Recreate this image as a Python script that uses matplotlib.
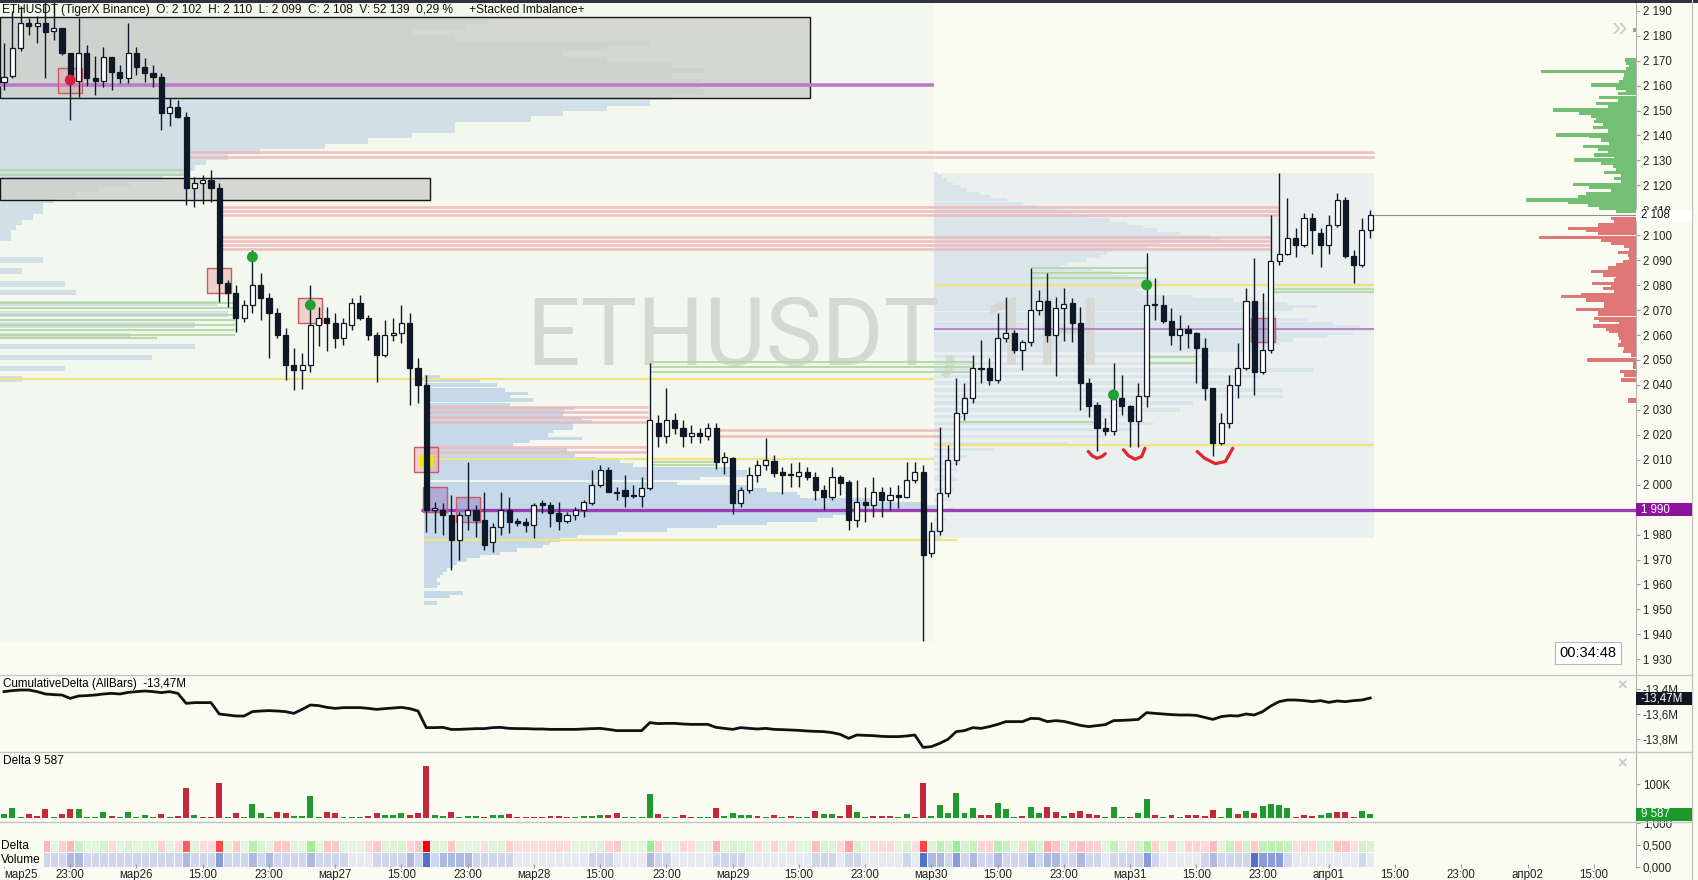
import numpy as np
import matplotlib.pyplot as plt
import matplotlib.transforms as mtrans
from matplotlib.patches import Rectangle
from matplotlib.lines import Line2D
from matplotlib.colors import to_rgb

# ---------------- data: ETHUSDT 1h candles ----------------
opens = [2161.6, 2163.8, 2174.9, 2184.9, 2183.9, 2184.9, 2181.9, 2182.9, 2172.9, 2161.8,
         2172.9, 2162.9, 2161.8, 2171.6, 2165.6, 2162.9, 2172.9, 2167.6, 2164.9, 2163.6,
         2148.9, 2151.5, 2147.5, 2118.8, 2120.8, 2122.1, 2118.8, 2080.7, 2076.7, 2066.7,
         2072.1, 2080.1, 2074.7, 2068.7, 2060.0, 2048.0, 2046.0, 2048.0, 2064.0, 2066.7,
         2064.7, 2058.7, 2064.0, 2072.7, 2066.7, 2060.0, 2052.0, 2060.0, 2060.7, 2064.7,
         2046.6, 2040.0, 1990.0, 1989.9, 1987.9, 1977.8, 1987.9, 1989.9, 1985.9, 1977.2,
         1983.2, 1989.9, 1985.2, 1985.2, 1983.8, 1992.5, 1991.9, 1988.8, 1985.6, 1987.9,
         1989.9, 1992.5, 1999.9, 2005.9, 1997.2, 1997.9, 1995.9, 1995.5, 1998.8, 2024.6,
         2019.5, 2025.9, 2022.6, 2019.5, 2020.6, 2019.5, 2022.6, 2009.2, 2010.6, 1992.8,
         1997.9, 2003.9, 2007.9, 2009.6, 2004.9, 2004.2, 2003.6, 2004.9, 2002.9, 1997.9,
         1995.2, 2003.2, 2001.2, 1985.8, 1992.9, 1991.9, 1996.9, 1993.9, 1995.9, 1995.2,
         2001.9, 2005.0, 1972.5, 1981.5, 1996.7, 2010.0, 2028.7, 2034.7, 2046.5, 2046.7,
         2042.0, 2058.7, 2061.0, 2054.0, 2057.0, 2070.1, 2073.8, 2060.0, 2070.7, 2072.7,
         2064.7, 2040.7, 2032.0, 2022.6, 2021.7, 2034.7, 2031.6, 2025.7, 2035.6, 2072.1,
         2072.1, 2065.8, 2060.0, 2062.5, 2061.0, 2054.7, 2038.7, 2016.6, 2024.6, 2040.0,
         2046.7, 2073.8, 2045.0, 2054.0, 2089.8, 2092.5, 2098.8, 2096.1, 2106.8, 2100.8,
         2096.1, 2104.1, 2114.2, 2091.7, 2088.1, 2102.0]
highs = [2176.9, 2190.0, 2192.0, 2187.0, 2188.0, 2194.5, 2194.5, 2182.9, 2173.0, 2187.0,
         2176.3, 2172.0, 2175.6, 2171.6, 2168.2, 2184.9, 2175.6, 2170.9, 2168.2, 2164.9,
         2154.9, 2154.2, 2149.5, 2123.5, 2124.2, 2126.2, 2120.8, 2082.1, 2080.1, 2074.1,
         2094.1, 2084.7, 2076.7, 2070.7, 2062.7, 2054.7, 2052.7, 2080.1, 2071.4, 2071.4,
         2068.7, 2066.7, 2074.7, 2076.1, 2068.0, 2061.4, 2066.0, 2066.7, 2072.1, 2068.7,
         2050.6, 2044.0, 1993.2, 1992.5, 1995.9, 1989.2, 2009.2, 1991.9, 1997.2, 1984.5,
         1997.2, 1995.2, 1986.5, 1986.5, 1992.5, 1993.9, 1993.2, 1993.2, 1989.2, 1991.2,
         1993.9, 2005.9, 2007.9, 2007.2, 1999.2, 2003.9, 1999.9, 2003.2, 2048.6, 2027.9,
         2038.6, 2028.6, 2025.9, 2023.9, 2022.6, 2024.9, 2024.6, 2013.2, 2011.2, 1999.2,
         2007.2, 2009.9, 2018.6, 2011.9, 2007.2, 2008.6, 2009.2, 2007.2, 2005.2, 1999.9,
         2007.2, 2003.9, 2001.9, 2001.9, 1999.2, 2003.2, 1999.2, 1999.2, 1999.9, 2009.2,
         2009.2, 2008.0, 1985.0, 2023.3, 2016.0, 2042.7, 2040.7, 2052.0, 2058.0, 2050.7,
         2068.7, 2075.4, 2062.0, 2058.0, 2086.8, 2078.1, 2084.8, 2075.4, 2078.8, 2074.7,
         2071.4, 2042.7, 2033.3, 2026.7, 2048.7, 2044.0, 2032.0, 2040.7, 2092.8, 2082.8,
         2076.1, 2070.7, 2068.1, 2064.1, 2061.4, 2058.7, 2038.7, 2028.7, 2044.0, 2056.7,
         2078.8, 2090.8, 2076.8, 2108.1, 2124.9, 2114.8, 2102.8, 2108.8, 2109.1, 2102.8,
         2108.1, 2116.8, 2115.5, 2094.1, 2106.8, 2110.0]
lows = [2158.2, 2163.0, 2174.0, 2180.3, 2177.2, 2162.9, 2178.3, 2172.3, 2146.2, 2155.6,
        2159.8, 2156.2, 2159.3, 2158.2, 2160.9, 2160.9, 2164.2, 2161.6, 2159.3, 2142.2,
        2143.8, 2146.9, 2112.1, 2111.2, 2112.5, 2113.5, 2073.4, 2071.4, 2061.4, 2065.4,
        2068.7, 2066.0, 2050.7, 2058.7, 2042.0, 2038.0, 2038.3, 2045.3, 2055.4, 2053.4,
        2054.7, 2056.0, 2062.0, 2066.0, 2058.0, 2041.3, 2051.3, 2057.4, 2056.7, 2032.0,
        2032.9, 1981.2, 1980.5, 1979.8, 1965.8, 1969.8, 1981.8, 1979.2, 1973.8, 1973.2,
        1979.8, 1980.5, 1983.5, 1981.2, 1978.5, 1988.5, 1983.2, 1981.8, 1984.5, 1985.9,
        1987.2, 1991.9, 1999.2, 1997.2, 1993.9, 1991.2, 1994.5, 1991.2, 1997.9, 2015.2,
        2016.6, 2020.3, 2015.2, 2016.6, 2016.6, 2017.9, 2006.2, 2004.3, 1988.3, 1991.2,
        1996.5, 2001.2, 2005.9, 2003.2, 1996.1, 1999.2, 1999.2, 2001.9, 1993.9, 1989.9,
        1993.9, 1995.9, 1981.8, 1983.2, 1985.2, 1987.2, 1987.2, 1989.9, 1990.5, 1994.5,
        2000.5, 1937.4, 1971.0, 1980.0, 1995.0, 2008.0, 2026.0, 2032.7, 2040.7, 2040.0,
        2040.7, 2057.0, 2052.7, 2046.0, 2055.4, 2068.1, 2057.0, 2043.4, 2057.4, 2057.0,
        2030.0, 2027.3, 2013.3, 2020.0, 2020.0, 2028.0, 2015.3, 2015.3, 2031.3, 2066.1,
        2064.7, 2056.0, 2054.0, 2054.7, 2040.7, 2034.0, 2011.3, 2016.0, 2022.6, 2034.7,
        2046.0, 2036.0, 2044.4, 2052.7, 2088.1, 2092.1, 2091.2, 2095.2, 2092.5, 2087.2,
        2092.5, 2103.5, 2090.8, 2081.0, 2087.4, 2099.0]
closes = [2163.6, 2174.9, 2184.9, 2183.9, 2184.9, 2181.6, 2182.9, 2172.9, 2163.6, 2172.9,
          2162.9, 2161.8, 2171.6, 2165.6, 2162.9, 2172.9, 2167.6, 2164.9, 2163.6, 2148.9,
          2151.5, 2147.5, 2118.8, 2120.8, 2122.1, 2118.8, 2080.7, 2076.7, 2066.7, 2072.1,
          2080.1, 2074.7, 2068.7, 2060.0, 2048.0, 2046.0, 2048.0, 2064.0, 2066.7, 2064.7,
          2058.7, 2064.7, 2072.7, 2066.7, 2060.0, 2052.0, 2060.0, 2061.0, 2064.7, 2046.7,
          2040.0, 1989.9, 1990.5, 1987.9, 1977.8, 1987.9, 1989.9, 1985.9, 1975.8, 1983.2,
          1989.9, 1985.2, 1984.8, 1983.8, 1991.9, 1991.9, 1988.8, 1985.6, 1987.9, 1989.9,
          1993.2, 1999.9, 2005.9, 1997.2, 1996.8, 1995.6, 1995.6, 1998.8, 2025.9, 2019.5,
          2025.9, 2022.6, 2019.5, 2020.6, 2019.5, 2022.6, 2009.2, 2011.2, 1992.8, 1997.9,
          2003.9, 2007.9, 2009.9, 2004.8, 2003.9, 2003.9, 2004.9, 2002.9, 1997.9, 1995.2,
          2003.2, 2000.8, 1985.8, 1993.2, 1991.9, 1996.9, 1993.9, 1995.9, 1994.9, 2001.9,
          2005.2, 1972.0, 1981.5, 1996.7, 2010.0, 2028.7, 2034.7, 2046.7, 2046.7, 2042.0,
          2058.7, 2061.0, 2053.8, 2057.0, 2070.1, 2073.8, 2060.0, 2070.7, 2072.5, 2064.7,
          2040.7, 2031.6, 2022.6, 2021.7, 2034.3, 2031.6, 2025.7, 2035.6, 2072.1, 2071.9,
          2065.8, 2060.0, 2062.5, 2060.7, 2054.7, 2038.7, 2016.6, 2024.6, 2040.0, 2046.7,
          2073.8, 2045.0, 2054.0, 2089.8, 2092.5, 2098.8, 2096.1, 2106.8, 2102.1, 2096.1,
          2104.1, 2114.2, 2091.7, 2088.1, 2102.1, 2108.0]

# per-bar delta (thousands) and cumulative delta (millions)
delta = [10, 28, 2, -10, -4, -25, 2, -10, -25, 25,
         2, 2, 16, -4, 2, 16, 2, 7, 2, -10,
         2, -4, -88, 7, -2, -2, -102, 2, -13, 2,
         40, 13, 2, -16, -13, 4, 4, 64, 2, -16,
         -13, 2, 2, 2, -4, -13, 7, 7, 13, -7,
         -13, -154, 7, 5, -16, 2, 4, 4, -2, 7,
         7, -10, -2, -2, -2, -2, -4, -4, -2, 2,
         4, 4, 7, -7, -13, 2, 2, 2, 70, -10,
         2, 2, -7, -2, 2, 2, -28, 5, 14, 8,
         8, -5, 2, -8, 2, -5, 2, 2, -20, 12,
         10, -5, -38, 17, 2, -5, -5, -5, 2, 12,
         -2, -104, 5, 38, 15, 74, 15, 29, -8, -8,
         44, 26, 2, -5, 32, 14, -32, -17, 5, -13,
         -19, -10, -8, 1, 32, 2, -2, 14, 54, -8,
         2, -8, 2, -8, -8, -5, -23, 2, 29, -11,
         20, -14, 35, 40, 38, 29, -2, -8, -5, 8,
         14, -17, -16, -2, 20, 9.587]
cum_delta = [-13.421, -13.413, -13.408, -13.408, -13.421, -13.440, -13.445, -13.448, -13.475, -13.456,
             -13.453, -13.448, -13.440, -13.435, -13.440, -13.427, -13.421, -13.416, -13.421, -13.429,
             -13.421, -13.435, -13.515, -13.509, -13.509, -13.509, -13.600, -13.608, -13.616, -13.616,
             -13.581, -13.576, -13.573, -13.576, -13.581, -13.595, -13.563, -13.528, -13.533, -13.547,
             -13.555, -13.549, -13.549, -13.549, -13.555, -13.563, -13.557, -13.552, -13.547, -13.557,
             -13.576, -13.709, -13.709, -13.707, -13.723, -13.723, -13.720, -13.717, -13.717, -13.709,
             -13.707, -13.715, -13.717, -13.717, -13.720, -13.720, -13.723, -13.723, -13.723, -13.723,
             -13.720, -13.717, -13.715, -13.723, -13.733, -13.733, -13.733, -13.733, -13.669, -13.677,
             -13.675, -13.675, -13.680, -13.683, -13.683, -13.683, -13.707, -13.715, -13.723, -13.709,
             -13.715, -13.720, -13.715, -13.723, -13.725, -13.728, -13.731, -13.736, -13.739, -13.741,
             -13.749, -13.763, -13.795, -13.768, -13.771, -13.773, -13.779, -13.781, -13.781, -13.776,
             -13.768, -13.867, -13.861, -13.835, -13.803, -13.741, -13.733, -13.709, -13.715, -13.701,
             -13.683, -13.661, -13.661, -13.661, -13.635, -13.637, -13.661, -13.653, -13.659, -13.675,
             -13.691, -13.701, -13.693, -13.685, -13.653, -13.651, -13.648, -13.643, -13.589, -13.595,
             -13.600, -13.605, -13.608, -13.608, -13.611, -13.627, -13.643, -13.621, -13.613, -13.616,
             -13.600, -13.608, -13.581, -13.536, -13.501, -13.488, -13.488, -13.493, -13.501, -13.493,
             -13.507, -13.496, -13.501, -13.493, -13.488, -13.472]
# volume intensity class shown in the heat strip (0 = low .. 4 = high)
vol_level = [1, 1, 1, 1, 1, 1, 1, 1, 2, 2, 1, 1, 1, 1, 1, 1, 1, 1, 1, 1,
             1, 1, 2, 1, 1, 1, 3, 1, 1, 1, 2, 1, 2, 1, 1, 1, 1, 2, 1, 1,
             1, 1, 0, 0, 0, 1, 1, 1, 1, 2, 1, 4, 1, 2, 2, 2, 2, 1, 1, 1,
             1, 1, 0, 0, 0, 0, 0, 0, 0, 0, 0, 1, 1, 1, 0, 0, 0, 0, 2, 1,
             1, 0, 0, 0, 0, 0, 1, 1, 1, 1, 0, 0, 0, 0, 0, 0, 0, 0, 1, 1,
             1, 0, 1, 1, 0, 0, 0, 0, 0, 1, 0, 4, 2, 2, 1, 3, 1, 2, 1, 1,
             2, 1, 1, 1, 2, 1, 2, 2, 1, 1, 2, 1, 1, 0, 1, 1, 1, 1, 3, 1,
             0, 0, 0, 0, 0, 1, 2, 1, 1, 1, 1, 4, 3, 3, 3, 1, 0, 0, 0, 0,
             0, 0, 0, 0, 1, 0]

# session volume profiles (price, volume)
s1_price = [2185.6, 2183.4, 2181.3, 2179.1, 2176.9, 2174.8, 2172.6, 2170.4, 2168.2, 2166.1,
            2163.9, 2161.7, 2159.6, 2157.4, 2155.2, 2153.0, 2150.9, 2148.7, 2146.5, 2144.3,
            2142.2, 2140.0, 2137.8, 2135.7, 2133.5, 2131.3, 2129.2, 2127.0, 2124.8, 2122.6,
            2120.5, 2118.3, 2116.1, 2113.9, 2111.8, 2109.6, 2107.4, 2105.3, 2103.1, 2100.9,
            2098.8, 2090.1, 2085.7, 2080.5, 2077.0, 2072.7, 2068.4, 2064.0, 2059.7, 2055.3,
            2051.0, 2046.6, 2042.3]
s1_vol = [488, 466, 412, 455, 650, 607, 563, 607, 672, 704, 672, 700, 700, 704, 672, 650, 607, 563,
          531, 455, 455, 412, 368, 325, 260, 228, 206, 195, 184, 163, 130, 98, 76, 54, 43, 43, 33,
          22, 16, 11, 11, 43, 22, 65, 76, 217, 228, 195, 130, 195, 152, 65, 22]
s2_price = [2043.3, 2042.0, 2040.0, 2038.0, 2036.6, 2035.3, 2033.9, 2031.9, 2030.6, 2029.3,
            2027.9, 2026.6, 2025.3, 2023.9, 2022.6, 2021.3, 2019.9, 2018.6, 2017.2, 2015.9,
            2013.9, 2011.9, 2010.6, 2009.2, 2007.9, 2006.6, 2005.2, 2003.9, 2002.5, 2000.5,
            1999.2, 1997.9, 1996.5, 1995.2, 1993.9, 1992.5, 1991.2, 1989.9, 1988.5, 1987.2,
            1985.9, 1984.5, 1983.2, 1981.8, 1980.5, 1979.2, 1977.8, 1976.5, 1975.2, 1973.8,
            1972.5, 1971.2, 1969.8, 1968.5, 1967.1, 1965.8, 1964.5, 1963.1, 1961.8, 1960.5,
            1959.1, 1956.5, 1955.1, 1952.5]
s2_vol = [16, 56, 73, 81, 104, 86, 109, 86, 150, 140, 139, 158, 168, 149, 149, 129, 124, 158, 106,
          89, 143, 151, 171, 196, 209, 309, 323, 323, 276, 253, 326, 343, 373, 376, 450, 500, 520,
          530, 426, 409, 393, 343, 293, 243, 193, 153, 136, 126, 119, 93, 76, 56, 43, 33, 29, 23,
          19, 16, 13, 16, 13, 39, 26, 13]
s3_price = [2124.8, 2123.5, 2122.2, 2120.8, 2119.5, 2118.2, 2116.8, 2115.5, 2114.2, 2112.8,
            2111.5, 2110.2, 2108.8, 2107.5, 2106.1, 2104.8, 2103.5, 2102.1, 2100.8, 2099.5,
            2098.1, 2096.8, 2095.5, 2094.1, 2092.8, 2091.5, 2090.1, 2088.8, 2087.4, 2086.1,
            2084.8, 2083.4, 2082.1, 2080.8, 2079.4, 2078.1, 2076.8, 2075.4, 2074.1, 2072.7,
            2071.4, 2070.1, 2068.7, 2067.4, 2066.1, 2064.7, 2063.4, 2062.1, 2060.7, 2059.4,
            2058.0, 2056.7, 2055.4, 2054.0, 2051.4, 2048.7, 2046.0, 2043.4, 2040.7, 2038.0,
            2035.3, 2032.7, 2030.0, 2027.3, 2024.6, 2022.0, 2019.3, 2016.6, 2014.0, 2011.3,
            2008.6, 2006.0, 2003.3, 2002.0, 1998.0, 1994.0, 1990.0, 1986.0, 1982.0, 1979.0]
s3_vol = [3, 8, 13, 19, 26, 33, 46, 56, 73, 89, 103, 123, 139, 153, 176, 193, 209, 223, 246, 276,
          286, 226, 213, 179, 173, 166, 153, 133, 126, 159, 179, 193, 219, 226, 209, 203, 209, 259,
          299, 353, 383, 359, 336, 343, 373, 399, 426, 436, 419, 393, 359, 346, 336, 326, 276, 259,
          379, 326, 293, 349, 349, 259, 246, 209, 219, 199, 173, 133, 59, 33, 26, 23, 19, 23, 20,
          18, 15, 12, 10, 8]

# right-hand visible-range profile (buy side above price, sell side below)
rp_up_price = [2182.3, 2170.3, 2168.9, 2167.6, 2166.6, 2165.6, 2164.2, 2162.9, 2161.6, 2160.2,
               2158.9, 2158.2, 2156.9, 2155.3, 2154.2, 2152.9, 2151.5, 2150.2, 2148.9, 2147.8,
               2146.9, 2145.5, 2144.2, 2143.1, 2141.8, 2140.2, 2139.5, 2138.2, 2136.9, 2135.5,
               2134.4, 2133.1, 2132.2, 2131.2, 2130.2, 2128.8, 2127.5, 2126.2, 2125.1, 2123.9,
               2122.8, 2121.5, 2120.4, 2119.1, 2117.7, 2116.8, 2115.5, 2114.1, 2113.1, 2112.1,
               2110.8, 2109.5]
rp_up_vol = [3, 11, 10, 7, 10, 95, 12, 13, 17, 45, 20, 10, 18, 37, 18, 40, 28, 83, 57, 45, 40, 42,
             33, 43, 28, 80, 47, 35, 27, 53, 38, 28, 42, 22, 62, 35, 23, 20, 32, 15, 22, 15, 63, 47,
             25, 50, 58, 110, 68, 48, 37, 20]
rp_dn_price = [2106.8, 2105.5, 2104.1, 2102.8, 2101.8, 2100.8, 2099.2, 2098.1, 2096.8, 2095.4,
               2094.1, 2093.2, 2092.1, 2090.8, 2089.4, 2088.1, 2086.8, 2085.4, 2084.1, 2083.1,
               2082.1, 2080.7, 2079.7, 2078.6, 2077.4, 2076.3, 2075.4, 2074.1, 2072.7, 2071.7,
               2070.3, 2069.1, 2068.1, 2066.7, 2065.8, 2064.7, 2063.6, 2062.4, 2061.4, 2060.0,
               2058.7, 2057.4, 2056.0, 2054.7, 2053.4, 2052.0, 2050.0, 2048.4, 2047.1, 2045.3,
               2044.0, 2042.0, 2034.0, 2033.3]
rp_dn_vol = [25, 22, 38, 68, 50, 38, 97, 35, 25, 12, 7, 18, 8, 7, 13, 20, 28, 45, 33, 20, 22, 44,
             25, 33, 22, 55, 75, 50, 32, 32, 60, 38, 38, 42, 37, 17, 43, 30, 27, 18, 17, 15, 18, 12,
             13, 5, 49, 3, 3, 16, 12, 15, 8, 8]

# levels: price, first bar, last bar
pink_p = [2133.4, 2131.4, 2111.4, 2109.8, 2108.1, 2099.3, 2097.6, 2095.9, 2094.3,
          2031.0, 2029.0, 2027.0, 2025.0, 2015.2, 2013.2, 2021.9, 2019.5]
pink_a = [22.5, 22.5, 26.3, 26.3, 26.3, 26.3, 26.3, 26.3, 26.3, 51, 51, 51, 51, 51, 51, 86.1, 86.1]
pink_b = [165.5, 165.5, 154, 154, 154, 153, 153, 153, 153, 77.8, 77.8, 77.8, 77.8, 77.8, 77.8, 113, 113]
green_p = [2126.2, 2124.2, 2072.7, 2070.7, 2068.0, 2066.0, 2064.0, 2062.0, 2060.0, 2058.7,
           2049.2, 2047.2, 2045.2, 2009.2, 2007.9, 2086.8, 2084.8, 2082.8, 2051.0, 2048.8,
           2025.2, 2080.0, 2078.6, 2077.3]
green_a = [-0.5, -0.5, -0.5, -0.5, -0.5, -0.5, -0.5, -0.5, -0.5, -0.5,
           78, 78, 78, 78, 78, 124, 124, 124, 138, 138, 115, 153, 153, 153]
green_b = [21.6, 21.6, 27.9, 27.9, 27.9, 27.9, 27.9, 27.9, 27.9, 18.5,
           117, 117, 117, 86, 86, 138, 138, 138, 144, 144, 131.5, 165.5, 165.5, 165.5]
yellow_p = [2042.3, 2010.2, 1977.9, 2080.1, 2016.1]
yellow_a = [-0.5, 50.7, 50.7, 112.3, 112.3]
yellow_b = [112.3, 112.3, 115.1, 165.5, 165.5]
poc_p = [2160.4, 2062.4]
poc_a = [-0.5, 112.3]
poc_b = [112.3, 165.5]
naked_poc = 1990.0
naked_poc_from = 50.4

# zones (first bar, last bar, low, high)
zones = [(-0.5, 97.4, 2154.9, 2187.4), (-0.5, 51.4, 2114.0, 2122.8)]
# stacked imbalance squares (bar, price, kind)
squares = [(8, 2162, 'r'), (26, 2082, 'r'), (37, 2070, 'r'), (51, 2010, 'r'),
           (52, 1994, 'v'), (56, 1990, 'v'), (152, 2062, 'v')]
dot_i = [8, 30, 37, 134, 138]
dot_p = [2162.2, 2091.3, 2072.0, 2036.0, 2080.1]
dot_c = ['#d3203f', '#22a032', '#22a032', '#22a032', '#22a032']
# hand-drawn marks under the lows
arcs = [([130.95, 131.4, 132.0, 132.6, 133.0], [2013.3, 2011.6, 2010.6, 2011.3, 2012.4]),
        ([135.2, 135.8, 136.6, 137.4, 137.8], [2014.0, 2011.6, 2010.2, 2011.3, 2014.6]),
        ([144.1, 145.0, 146.3, 147.5, 148.4], [2013.3, 2010.6, 2008.4, 2009.3, 2014.6])]

x_labels = ['мар25', '23:00', 'мар26', '15:00', '23:00', 'мар27', '15:00', '23:00',
            'мар28', '15:00', '23:00', 'мар29', '15:00', '23:00', 'мар30', '15:00', '23:00',
            'мар31', '15:00', '23:00', 'апр01', '15:00', '23:00', 'апр02', '15:00']

# ---------------- layout ----------------
W, H = 1699, 880
BG = '#fbfcf1'
INK = '#0e1826'
PX = 8.28            # pixels per bar
XR = 197.1           # right edge in bar units
plt.rcParams['font.family'] = ['Liberation Sans', 'DejaVu Sans']

fig = plt.figure(figsize=(W / 100, H / 100), dpi=100, facecolor=BG)


def panel(top, bottom):
    return [0, 1 - bottom / H, 1636 / W, (bottom - top) / H]


ax = fig.add_axes(panel(3, 675))
axc = fig.add_axes(panel(675, 752), sharex=ax)
axd = fig.add_axes(panel(752, 822), sharex=ax)
axh = fig.add_axes(panel(822, 868), sharex=ax)
for a in (ax, axc, axd, axh):
    a.set_facecolor('none')
    for s in ('left', 'top', 'bottom'):
        a.spines[s].set_visible(False)
    a.spines['right'].set_color('#b4b4b4')
    a.yaxis.tick_right()
    a.tick_params(axis='y', direction='out', length=3, width=0.8, color='#9a9a9a',
                  labelsize=8.3, labelcolor='#222222', pad=2)
    a.tick_params(axis='x', bottom=False, labelbottom=False)
ax.set_xlim(-0.483, XR)

idx = np.arange(len(opens))
o, h, l, c = (np.array(v) for v in (opens, highs, lows, closes))

# ---------------- main price panel ----------------
ax.set_ylim(1923.7, 2193.1)
ax.add_patch(Rectangle((-0.483, 1937.4), 112.8, 260, fc='#f3f7ed', lw=0, zorder=0))
ax.add_patch(Rectangle((112.3, 1978.7), 53.2, 146.3, fc='#e9f0ef', lw=0, zorder=0.1))

ax.barh(s1_price, np.array(s1_vol) / PX, left=-0.483, height=2.2, color='#d3dfe7', lw=0, zorder=0.5)
ax.barh(s2_price, np.array(s2_vol) / PX, left=50.7, height=1.35, color='#c5d9e9', lw=0, zorder=0.5)
ax.barh(s3_price, np.array(s3_vol) / PX, left=112.3, height=1.35, color='#d9e5eb', lw=0, zorder=0.5)

ax.text(97.9, 2058.8, 'ETHUSDT, 1H', fontsize=68, family='Roboto', color='#d5d8d3',
        ha='center', va='center', zorder=0.8)

for x0, x1, p0, p1 in zones:
    ax.add_patch(Rectangle((x0, p0), x1 - x0, p1 - p0, fc=(0.81, 0.82, 0.80, 0.82),
                           ec='#151515', lw=1.0, zorder=1.0))

ax.hlines(pink_p, pink_a, pink_b, colors='#efb7b7', lw=1.9, alpha=0.85, zorder=2)
ax.hlines(green_p, green_a, green_b, colors='#b3d8a3', lw=1.5, alpha=0.9, zorder=2)
ax.hlines(yellow_p, yellow_a, yellow_b, colors='#f2e47c', lw=1.6, zorder=2.2)
ax.hlines(poc_p, poc_a, poc_b, colors='#b87cc9', lw=[2.6, 1.3], zorder=2.3)
ax.hlines(naked_poc, naked_poc_from, XR, colors='#9c3db4', lw=2.4, zorder=2.3)
ax.hlines(closes[-1], len(opens) - 0.5, XR, colors='#8c8c8c', lw=0.8, zorder=2.3)

for bi, bp, kind in squares:
    fc = (0.91, 0.60, 0.60, 0.40) if kind == 'r' else (0.62, 0.52, 0.78, 0.55)
    ax.add_patch(Rectangle((bi - 1.45, bp - 5), 2.9, 10, fc=fc, ec='#cd5a63', lw=1.0, zorder=4))
ax.add_patch(Rectangle((50.2, 2007), 1.6, 5, fc='#f4e600', lw=0, zorder=4.5))

# candles
up = c >= o
lo = np.minimum(o, c)
bh = np.maximum(np.abs(c - o), 0.45)
ax.vlines(idx, l, h, color=INK, lw=1.0, zorder=5)
ax.bar(idx[up], bh[up], bottom=lo[up], width=0.62, facecolor='white', edgecolor=INK, lw=0.9, zorder=6)
ax.bar(idx[~up], bh[~up], bottom=lo[~up], width=0.62, facecolor=INK, edgecolor=INK, lw=0.9, zorder=6)

ax.scatter(dot_i, dot_p, s=62, c=dot_c, lw=0, zorder=7)
for ax_i, ax_p in arcs:
    ax.plot(ax_i, ax_p, color='#e3262b', lw=2.3, solid_capstyle='round', zorder=8)

# right-side profile
up_w = np.array(rp_up_vol) / PX
dn_w = np.array(rp_dn_vol) / PX
ax.barh(rp_up_price, up_w, left=XR - up_w, height=1.35, color='#73bf73', lw=0, zorder=2)
ax.barh(rp_dn_price, dn_w, left=XR - dn_w, height=1.35, color='#df7777', lw=0, zorder=2)

ticks = np.arange(1930, 2191, 10)
ax.set_yticks(ticks)
ax.set_yticklabels([f'{v:,}'.replace(',', ' ') for v in ticks])

# ---------------- cumulative delta ----------------
axc.plot(idx, cum_delta, color='#111111', lw=2.0, zorder=3)
axc.set_ylim(-13.904, -13.288)
axc.set_yticks([-13.8, -13.6, -13.4])
axc.set_yticklabels(['-13,8M', '-13,6M', '-13,4M'])

# ---------------- delta histogram ----------------
axd.bar(idx, np.abs(delta), width=0.72, lw=0,
        color=['#1f9a2f' if d >= 0 else '#c8263a' for d in delta])
axd.set_ylim(-12.8, 195)
axd.set_yticks([100])
axd.set_yticklabels(['100K'])


# ---------------- heat strip ----------------
def mix(c1, c2, t):
    return tuple(a + (b - a) * t for a, b in zip(to_rgb(c1), to_rgb(c2)))


dmax = max(abs(d) for d in delta)
dcol = [mix('#e6f5df', '#9beb90', min(1, d / 70)) if d >= 0
        else mix('#fde3e3', '#ff0000', (abs(d) / dmax) ** 0.9) for d in delta]
vpal = ['#e8eaf1', '#d0d6ec', '#aeb9e2', '#8a9bd9', '#5470c9']
axh.bar(idx, 0.273, bottom=0.341, width=1.0, color=dcol, edgecolor='white', lw=0.6)
axh.bar(idx, 0.341, bottom=0.0, width=1.0, color=[vpal[v] for v in vol_level],
        edgecolor='white', lw=0.6)
axh.add_patch(Rectangle((-0.483, -0.01), 5.3, 0.63, fc=BG, lw=0, zorder=3))
axh.text(-0.35, 0.475, 'Delta', fontsize=8.6, va='center', zorder=4)
axh.text(-0.35, 0.17, 'Volume', fontsize=8.6, va='center', zorder=4)
axh.set_ylim(-0.0227, 1.0227)
axh.set_yticks([0, 0.5, 1])
axh.set_yticklabels(['0,000', '0,500', '1,000'])
axh.set_xticks(np.arange(0, 8 * len(x_labels), 8))
axh.set_xticklabels(x_labels)
axh.tick_params(axis='x', bottom=True, labelbottom=True, direction='in', length=3,
                color='#9a9a9a', labelsize=8.3, labelcolor='#222222', pad=1)
axh.get_xticklabels()[0].set_ha('left')


# ---------------- right-axis value tags ----------------
def tag(a, y, txt, fc, half_px=6.5, tc='white'):
    y0, y1 = a.get_ylim()
    hh = half_px * (y1 - y0) / (a.get_position().height * H)
    tr = mtrans.blended_transform_factory(fig.transFigure, a.transData)
    fig.add_artist(Rectangle((1636 / W, y - hh), 56 / W, 2 * hh, transform=tr, fc=fc, lw=0, zorder=4))
    fig.text(1641 / W, y, txt, transform=tr, fontsize=8.3, color=tc, va='center', ha='left', zorder=5)


tag(ax, closes[-1], '2 108', 'white', half_px=5.5, tc='#111111')
tag(ax, naked_poc, '1 990', '#8d139f')
tag(axc, cum_delta[-1], '-13,47M', '#0f1720')
tag(axd, delta[-1], '9 587', '#1c9a2c')

# ---------------- chrome ----------------
for yy in (675, 752, 822):
    fig.add_artist(Line2D([0, 1692 / W], [1 - yy / H] * 2, color='#c4c4c4', lw=1))
fig.add_artist(Line2D([1692 / W] * 2, [0, 1], color='#c4c4c4', lw=1))
fig.add_artist(Rectangle((0, 1 - 3 / H), 1, 3 / H, transform=fig.transFigure, fc='#2d3440', lw=0))

fig.text(2 / W, 1 - 10 / H,
         'ETHUSDT (TigerX Binance)  O: 2 102  H: 2 110  L: 2 099  C: 2 108  '
         'V: 52 139  0,29 %     +Stacked Imbalance+',
         fontsize=8.55, va='center', color='#111111')
fig.text(3 / W, 1 - 684 / H, 'CumulativeDelta (AllBars)  -13,47M', fontsize=8.4, va='center')
fig.text(3 / W, 1 - 761 / H, 'Delta 9 587', fontsize=8.6, va='center')
fig.text(1588 / W, 1 - 653 / H, '00:34:48', fontsize=10.5, ha='center', va='center',
         bbox=dict(boxstyle='square,pad=0.3', fc='white', ec='#b8b8b8', lw=0.8))
fig.text(1620 / W, 1 - 29 / H, '»', fontsize=20, color='#cccccc', ha='center', va='center')
for yy in (686, 764):
    fig.text(1622 / W, 1 - yy / H, '×', fontsize=12, fontweight='bold', color='#c8c8c8',
             ha='center', va='center')

fig.savefig('out.png', dpi=100, facecolor=BG)
